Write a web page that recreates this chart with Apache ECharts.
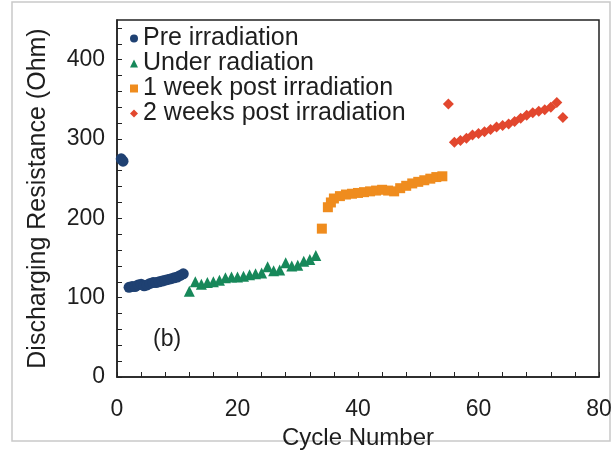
<!DOCTYPE html>
<html>
<head>
<meta charset="utf-8">
<script src="https://cdn.jsdelivr.net/npm/echarts@6/dist/echarts.min.js"></script>
<style>
  html, body { margin: 0; padding: 0; background: #fff; }
  #chart { width: 613px; height: 450px; }
</style>
</head>
<body>
<div id="chart"></div>
<script>
// Discharging resistance per cycle, grouped by irradiation stage
const preCycles = [0.7, 1, 2, 2.5, 3, 3.5, 4, 4.5, 5, 5.5, 6, 6.5, 7, 7.5, 8, 8.5, 9, 9.5, 10, 10.5, 11];
const preValues = [275, 272, 113, 114, 114, 116, 117, 115, 116, 118, 119, 119, 120, 121, 122, 123, 124, 125, 126, 128, 130];

const underCycles = [12, 13, 14, 15, 16, 17, 18, 19, 20, 21, 22, 23, 24, 25, 26, 27, 28, 29, 30, 31, 32, 33];
const underValues = [108, 120, 117, 119, 120, 122, 125, 126, 126, 127, 129, 130, 131, 139, 134, 135, 144, 140, 141, 146, 148, 153];

const week1Cycles = [34, 35, 35.5, 36, 37, 38, 39, 40, 41, 42, 43, 44, 45, 46, 47, 48, 49, 50, 51, 52, 53, 54];
const week1Values = [187, 214, 220, 225, 228, 230, 231, 232, 233, 234, 235, 236, 235, 234, 238, 241, 244, 246, 248, 250, 252, 253];

const week2Cycles = [55, 56, 57, 58, 59, 60, 61, 62, 63, 64, 65, 66, 67, 68, 69, 70, 71, 72, 73, 74];
const week2Values = [344, 296, 298, 301, 305, 307, 309, 312, 315, 317, 319, 322, 326, 330, 333, 335, 337, 340, 346, 327];

const xTicksLabelled = [0, 20, 40, 60, 80];
const yTicksLabelled = [0, 100, 200, 300, 400];

const pairs = (xs, ys) => xs.map((x, i) => [x, ys[i]]);

const FONT = '"Liberation Sans", Arial, sans-serif';
const INK = '#1e1e1e';

const chart = echarts.init(document.getElementById('chart'), null, { renderer: 'canvas' });

chart.setOption({
  backgroundColor: '#ffffff',
  animation: false,
  grid: {
    left: 117, right: 14, top: 20, bottom: 73,
    outerBoundsMode: 'none', containLabel: false,
    show: true, borderColor: '#222', borderWidth: 1.5, backgroundColor: 'transparent'
  },
  legend: {
    orient: 'vertical',
    left: 125, top: 21,
    itemWidth: 8, itemHeight: 8, itemGap: 0, itemTextGap: 6,
    textStyle: { fontFamily: FONT, fontSize: 25, lineHeight: 24, color: INK },
    data: [
      { name: 'Pre irradiation', icon: 'circle' },
      { name: 'Under radiation', icon: 'triangle' },
      { name: '1 week post irradiation', icon: 'rect' },
      { name: '2 weeks post irradiation', icon: 'diamond' }
    ]
  },
  xAxis: {
    type: 'value', min: 0, max: 80, interval: 4,
    name: 'Cycle Number', nameLocation: 'middle', nameGap: 43,
    nameTextStyle: { fontFamily: FONT, fontSize: 24, color: INK },
    axisLine: { show: true, lineStyle: { color: '#222', width: 1.5 } },
    axisTick: { show: true, inside: true, length: 5, lineStyle: { color: '#222' } },
    axisLabel: {
      fontFamily: FONT, fontSize: 23, color: INK, margin: 21,
      formatter: v => (xTicksLabelled.includes(v) ? String(v) : '')
    },
    splitLine: { show: false }
  },
  yAxis: {
    type: 'value', min: 0, max: 450, interval: 20,
    name: 'Discharging Resistance (Ohm)', nameLocation: 'middle', nameGap: 66,
    nameTextStyle: { fontFamily: FONT, fontSize: 25, color: INK },
    axisLine: { show: true, lineStyle: { color: '#222', width: 1.5 } },
    axisTick: { show: true, inside: true, length: 5, lineStyle: { color: '#222' } },
    axisLabel: {
      fontFamily: FONT, fontSize: 23, color: INK, margin: 12,
      showMaxLabel: false,
      formatter: v => (yTicksLabelled.includes(v) ? String(v) : '')
    },
    splitLine: { show: false }
  },
  series: [
    {
      name: 'Pre irradiation', type: 'scatter', symbol: 'circle', symbolSize: 11,
      itemStyle: { color: '#1f4172', opacity: 1 },
      data: pairs(preCycles, preValues)
    },
    {
      name: 'Under radiation', type: 'scatter', symbol: 'triangle', symbolSize: 11,
      itemStyle: { color: '#17885a', opacity: 1 },
      data: pairs(underCycles, underValues)
    },
    {
      name: '1 week post irradiation', type: 'scatter', symbol: 'rect', symbolSize: 10,
      itemStyle: { color: '#ef8c1e', opacity: 1 },
      data: pairs(week1Cycles, week1Values)
    },
    {
      name: '2 weeks post irradiation', type: 'scatter', symbol: 'diamond', symbolSize: 11,
      itemStyle: { color: '#e2472e', opacity: 1 },
      data: pairs(week2Cycles, week2Values)
    }
  ],
  graphic: [
    {
      type: 'rect', silent: true, z: -1,
      shape: { x: 12, y: 2, width: 598, height: 439 },
      style: { fill: 'none', stroke: '#c9c9c9', lineWidth: 1.5 }
    },
    {
      type: 'text', left: 153, top: 328,
      style: { text: '(b)', fontFamily: FONT, fontSize: 23, fill: INK }
    }
  ]
});
</script>
</body>
</html>
